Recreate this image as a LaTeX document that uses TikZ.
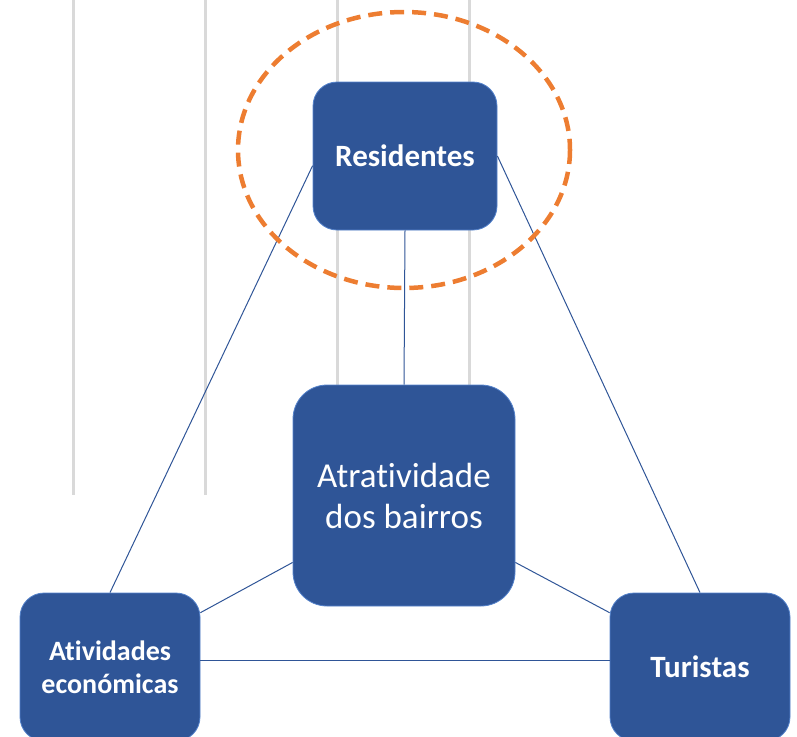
\documentclass[tikz,border=0pt]{standalone}
\usepackage{fontspec}
\setmainfont{Carlito}[RawFeature=-liga]
\usetikzlibrary{positioning}
\definecolor{boxblue}{RGB}{47,85,151}
\definecolor{boxedge}{RGB}{84,130,203}
\definecolor{ringorange}{RGB}{237,125,49}
\definecolor{gridgray}{RGB}{217,217,217}

\begin{document}
\begin{tikzpicture}[x=1pt,y=-1pt,
    box/.style={draw=boxedge,line width=0.8pt,fill=boxblue,text=white,rounded corners=24pt,align=center,inner sep=0pt},
    link/.style={boxblue,line width=1pt}]
  \clip (0,0) rectangle (797,736);
  % grid lines behind
  \foreach \x in {73,205,337,469} \draw[gridgray,line width=3pt] (\x,0) -- (\x,495);
  % boxes
  \node[box,minimum width=184pt,minimum height=148pt,font=\fontsize{31}{37}\selectfont\bfseries] (res) at (405,156) {Residentes};
  \node[box,rounded corners=34pt,minimum width=222pt,minimum height=221pt,font=\fontsize{35}{41}\selectfont] (atr) at (404,495.5) {Atratividade\\dos bairros};
  \node[box,minimum width=180pt,minimum height=148pt,font=\fontsize{28}{33}\selectfont\bfseries] (ativ) at (110,667) {Atividades\\económicas};
  \node[box,minimum width=180pt,minimum height=148pt,font=\fontsize{31}{36}\selectfont\bfseries] (tur) at (700,667) {Turistas};
  % links
  \draw[link] (res.186) -- (ativ.north);
  \draw[link] (res.east) -- (tur.north);
  \draw[link] (res.south) -- (atr.north);
  \draw[link] (atr.211) -- (ativ.31);
  \draw[link] (atr.329) -- (tur.149);
  \draw[link] (ativ.4) -- (tur.176);
  % highlight ring
  \draw[ringorange,line width=4.5pt,dash pattern=on 14pt off 8pt] (404,150) ellipse [x radius=166,y radius=138];
\end{tikzpicture}
\end{document}
